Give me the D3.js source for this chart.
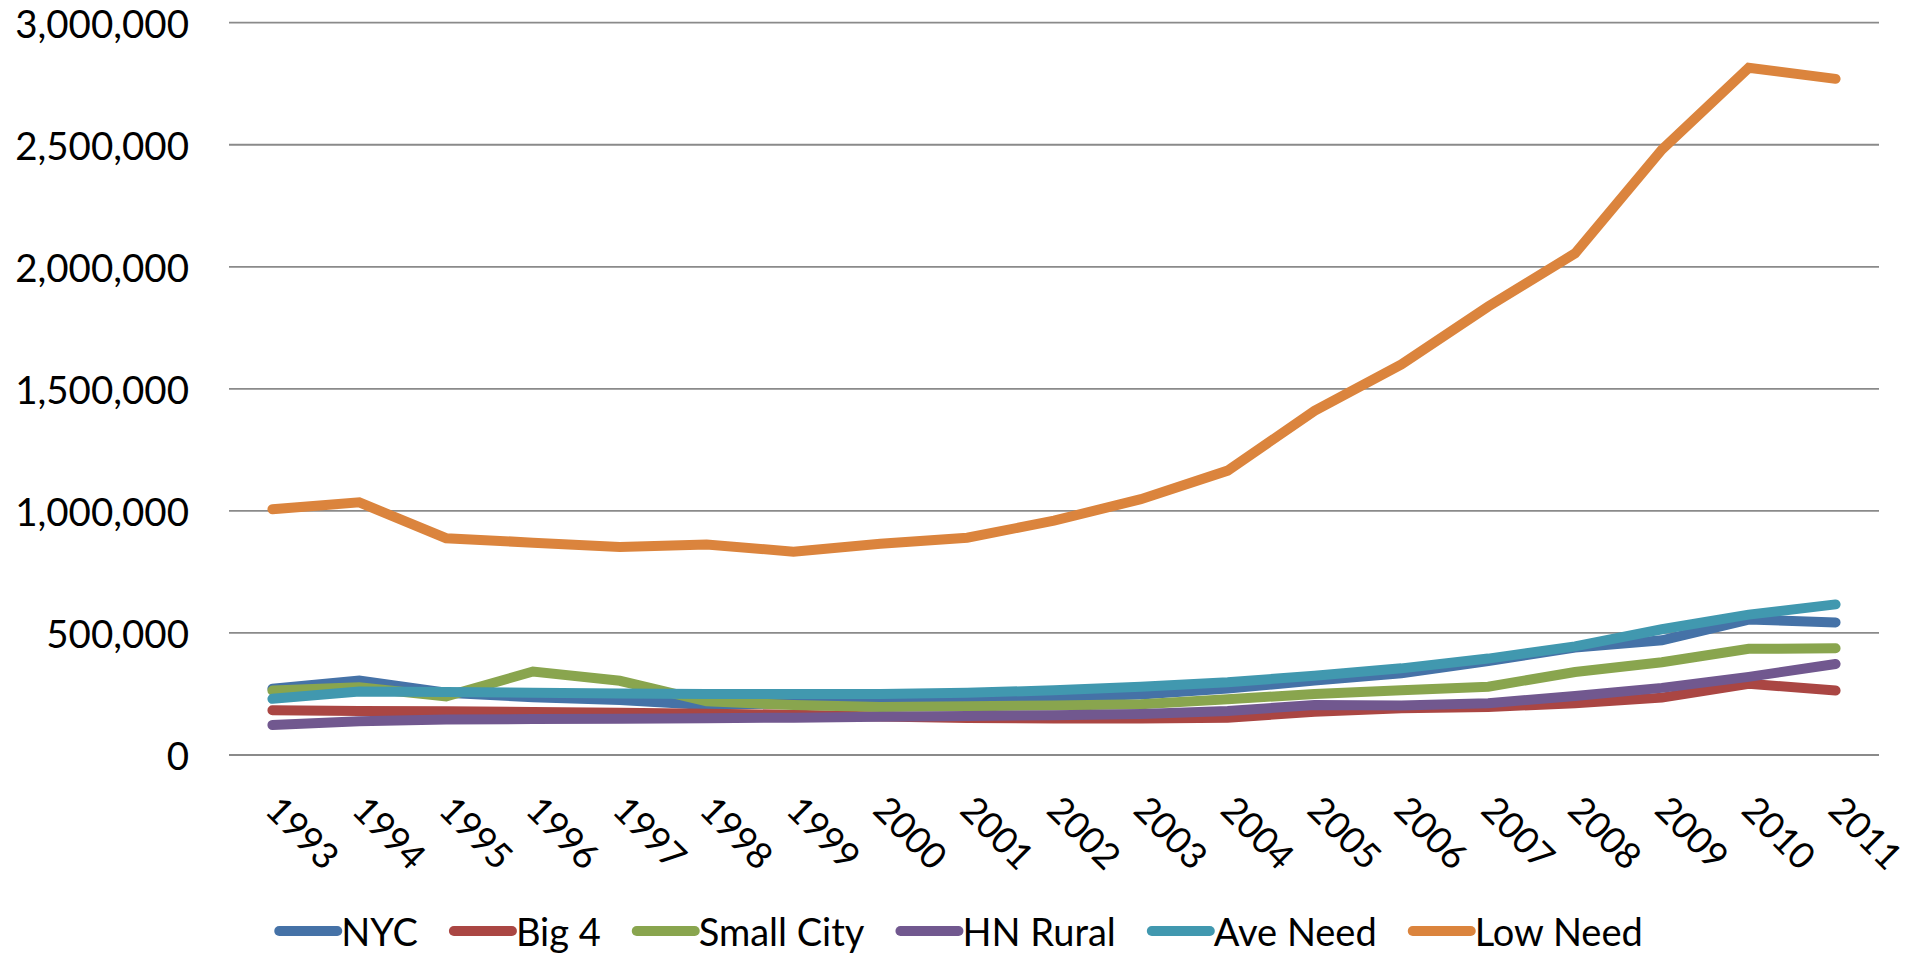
<!DOCTYPE html>
<html>
<head>
<meta charset="utf-8">
<script src="https://cdn.jsdelivr.net/npm/d3@7"></script>
<style>
  html, body { margin: 0; padding: 0; background: #ffffff; }
  svg { display: block; }
  text { font-family: Lato, "Open Sans", sans-serif; fill: #000; }
</style>
</head>
<body>
<svg id="chart" width="1915" height="954"></svg>
<script>
const years = ["1993","1994","1995","1996","1997","1998","1999","2000","2001","2002","2003","2004","2005","2006","2007","2008","2009","2010","2011"];
const yTicks = [0, 500000, 1000000, 1500000, 2000000, 2500000, 3000000];

const seriesNames = ["NYC", "Big 4", "Small City", "HN Rural", "Ave Need", "Low Need"];
const seriesColors = ["#4572A7", "#AA4643", "#89A54E", "#71588F", "#4198AF", "#DB843D"];

const nyc       = [272000, 305000, 255000, 237000, 225000, 205000, 212000, 228000, 233000, 238000, 248000, 272000, 305000, 335000, 385000, 440000, 470000, 555000, 543000];
const big4      = [183000, 180000, 179000, 176000, 173000, 169000, 165000, 158000, 152000, 150000, 150000, 153000, 177000, 192000, 197000, 212000, 235000, 292000, 264000];
const smallCity = [264000, 277000, 240000, 342000, 304000, 220000, 205000, 197000, 200000, 203000, 208000, 228000, 250000, 265000, 280000, 340000, 380000, 435000, 437000];
const hnRural   = [123000, 138000, 145000, 147000, 148000, 151000, 153000, 157000, 160000, 163000, 168000, 180000, 205000, 203000, 212000, 242000, 275000, 320000, 373000];
const aveNeed   = [230000, 260000, 258000, 255000, 252000, 250000, 250000, 250000, 255000, 265000, 280000, 298000, 325000, 355000, 395000, 445000, 515000, 575000, 617000];
const lowNeed   = [1007000, 1035000, 888000, 870000, 852000, 862000, 833000, 865000, 890000, 960000, 1048000, 1165000, 1410000, 1600000, 1837000, 2055000, 2480000, 2815000, 2770000];

const seriesValues = [nyc, big4, smallCity, hnRural, aveNeed, lowNeed];

const svg = d3.select("#chart");
const plotLeft = 229, plotRight = 1879, plotTop = 22.7, plotBottom = 755;

const x = d3.scalePoint().domain(years).range([plotLeft, plotRight]).padding(0.5);
const y = d3.scaleLinear().domain([0, 3000000]).range([plotBottom, plotTop]);

// gridlines
svg.append("g").selectAll("line").data(yTicks).join("line")
  .attr("x1", plotLeft).attr("x2", plotRight)
  .attr("y1", d => y(d)).attr("y2", d => y(d))
  .attr("stroke", "#8a8a8a").attr("stroke-width", 1.8);

// y axis labels
const fmt = d3.format(",");
svg.append("g").selectAll("text").data(yTicks).join("text")
  .attr("x", 189).attr("y", d => y(d))
  .attr("text-anchor", "end").attr("dominant-baseline", "central")
  .style("font-size", "38.5px")
  .text(d => fmt(d));

// x axis labels rotated
svg.append("g").selectAll("text").data(years).join("text")
  .attr("transform", d => `translate(${x(d) - 9},${812}) rotate(45)`)
  .attr("text-anchor", "start")
  .style("font-size", "36.5px")
  .text(d => d);

// lines
const line = d3.line().x((d, i) => x(years[i])).y(d => y(d));
svg.append("g").selectAll("path").data(seriesValues).join("path")
  .attr("d", d => line(d))
  .attr("fill", "none")
  .attr("stroke", (d, i) => seriesColors[i])
  .attr("stroke-width", 10)
  .attr("stroke-linecap", "round")
  .attr("stroke-linejoin", "miter");

// legend
const legend = svg.append("g");
const legY = 931;
const lineLen = 58, gapLT = 4, gapItem = 36;
let cursor = 0;
seriesNames.forEach((name, i) => {
  const g = legend.append("g");
  g.append("line")
    .attr("x1", 0).attr("x2", lineLen)
    .attr("y1", 0).attr("y2", 0)
    .attr("stroke", seriesColors[i]).attr("stroke-width", 10)
    .attr("stroke-linecap", "round");
  const t = g.append("text")
    .attr("x", lineLen + gapLT).attr("y", 0)
    .attr("dominant-baseline", "central")
    .style("font-size", "38px")
    .text(name);
  const w = t.node().getComputedTextLength();
  g.attr("transform", `translate(${cursor},${legY})`);
  cursor += lineLen + gapLT + w + gapItem;
});
const total = cursor - gapItem;
legend.attr("transform", `translate(${961 - total / 2},0)`);
</script>
</body>
</html>
